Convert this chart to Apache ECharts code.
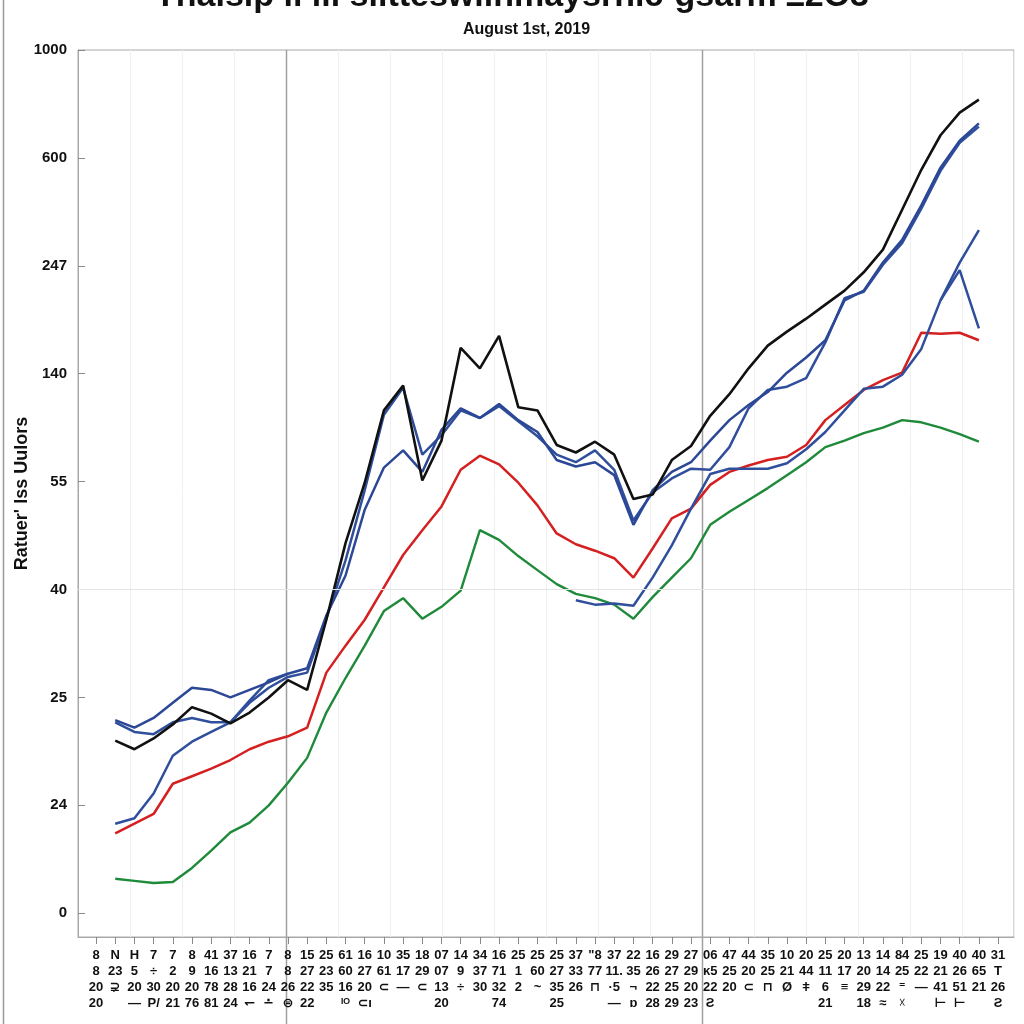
<!DOCTYPE html>
<html><head><meta charset="utf-8">
<script src="https://cdn.jsdelivr.net/npm/echarts@6/dist/echarts.min.js"></script>
<style>html,body{margin:0;padding:0;background:#fff}#c{width:1024px;height:1024px}</style>
</head><body><div id="c"></div>
<script>
// Y axis is an ordinal scale: tick k carries label yTickLabels[k]; values below are positions on that scale.
const yTickLabels = ['0','24','25','40','55','140','247','600','1000'];

// X axis: 48 columns, four label rows each
const xRow1 = ['8','N','H','7','7','8','41','37','16','7', '8','15','25','61','16','10','35','18','07','14','34','16', '25','25','25','37','"8','37','22','16','29','27', '06','47','44','35','10','20','25','20','13','14','84','25','19','40','40','31'];
const xRow2 = ['8','23','5','÷','2','9','16','13','21','7', '8','27','23','60','27','61','17','29','07','9','37','71', '1','60','27','33','77','11.','35','26','27','29', 'ĸ5','25','20','25','21','44','11','17','20','14','25','22','21','26','65','T'];
const xRow3 = ['20','⊋','20','30','20','20','78','28','16','24', '26','22','35','16','20','⊂','—','⊂','13','÷','30','32', '2','~','35','26','⊓','·5','¬','22','25','20', '22','20','⊂','⊓','Ø','ǂ','6','≡','29','22','⁼','—','41','51','21','26'];
const xRow4 = ['20','','—','P/','21','76','81','24','↽','∸', '⊜','22','','ᴵᴼ','⊂ı','','','','20','','','74', '','','25','','','—','ɒ','28','29','23', 'Ƨ','','','','','','21','','18','≈','☓','','⊢','⊢','','Ƨ'];

const black = [null,1.60,1.52,1.62,1.75,1.91,1.85,1.76,1.86,2.00,2.16,2.07,2.72,3.43,3.99,4.66,4.89,4.01,4.38,5.24,5.05,5.35,4.69,4.66,4.34,4.27,4.37,4.25,3.84,3.88,4.20,4.33,4.61,4.81,5.05,5.26,5.39,5.51,5.64,5.77,5.94,6.15,6.52,6.89,7.21,7.42,7.54,null];
const blue1 = [null,1.79,1.72,1.81,1.95,2.09,2.07,2.00,2.07,2.14,2.22,2.27,2.76,3.13,3.74,4.13,4.29,4.09,4.48,4.68,4.59,4.72,4.57,4.46,4.20,4.14,4.18,4.06,3.60,3.92,4.09,4.18,4.38,4.57,4.71,4.83,5.01,5.15,5.31,5.68,5.77,6.03,6.24,6.56,6.91,7.16,7.32,null];
const blue2 = [null,1.77,1.68,1.66,1.77,1.81,1.77,1.77,1.95,2.09,2.19,2.23,2.73,3.27,3.92,4.62,4.87,4.25,4.43,4.66,4.59,4.70,4.56,4.42,4.25,4.18,4.29,4.11,3.64,3.90,4.03,4.12,4.11,4.32,4.68,4.85,4.88,4.96,5.29,5.70,5.76,6.01,6.21,6.53,6.88,7.14,7.29,null];
const blue3 = [null,0.83,0.88,1.11,1.46,1.59,1.68,1.77,1.97,2.16,2.22,null,null,null,null,null,null,null,null,null,null,null,null,null,null,2.90,2.86,2.87,2.85,3.11,3.41,3.75,4.07,4.12,4.12,4.12,4.17,4.30,4.46,4.66,4.86,4.88,4.99,5.23,5.68,6.03,6.33,null];
const blue4 = [null,null,null,null,null,null,null,null,null,null,null,null,null,null,null,null,null,null,null,null,null,null,null,null,null,null,null,null,null,null,null,null,null,null,null,null,null,null,null,null,null,null,null,null,5.68,5.96,5.42,null];
const red = [null,0.74,0.83,0.92,1.20,1.27,1.34,1.42,1.52,1.59,1.64,1.72,2.23,2.48,2.72,3.02,3.32,3.55,3.77,4.11,4.24,4.16,3.99,3.78,3.52,3.42,3.36,3.29,3.11,3.38,3.66,3.75,3.97,4.09,4.15,4.20,4.23,4.34,4.57,4.71,4.85,4.94,5.01,5.38,5.37,5.38,5.31,null];
const green = [null,0.32,0.30,0.28,0.29,0.42,0.58,0.75,0.84,1.00,1.21,1.44,1.86,2.18,2.48,2.80,2.92,2.73,2.84,2.99,3.55,3.46,3.31,3.18,3.05,2.96,2.92,2.86,2.73,2.93,3.11,3.29,3.60,3.72,3.83,3.94,4.06,4.18,4.32,4.38,4.45,4.50,4.57,4.55,4.50,4.44,4.37,null];

const FONT = '"Liberation Sans", Arial, "DejaVu Sans", sans-serif';
const idx = xRow1.map((_, i) => i);
const pts = arr => arr.map((v, i) => [i, v]);
const mkLine = (name, arr, color, w) => ({
  name, type: 'line', data: pts(arr), xAxisIndex: 0, yAxisIndex: 0,
  symbol: 'none', connectNulls: false, animation: false,
  lineStyle: { color, width: w }, itemStyle: { color }
});

const chart = echarts.init(document.getElementById('c'), null, { renderer: 'canvas' });
const greenSeries = mkLine('green', green, '#1e8a3a', 2.4);
greenSeries.markLine = {
  silent: true, symbol: 'none', label: { show: false }, animation: false,
  lineStyle: { color: '#e4e4e4', width: 1, type: 'solid' },
  data: [{ yAxis: yTickLabels.indexOf('40') }]
};

chart.setOption({
  backgroundColor: '#fff',
  animation: false,
  title: [
    { text: 'Thalsip il lll slltteswllnmaysrnic-gsarm ±2O3', left: 'center', top: -25,
      textStyle: { fontSize: 34, fontWeight: 'bold', color: '#111', fontFamily: FONT } },
    { text: 'August 1st, 2019', left: 458, top: 17,
      textStyle: { fontSize: 16, fontWeight: 'bold', color: '#111', fontFamily: FONT } }
  ],
  grid: { left: 78, right: 10, top: 50, bottom: 87, show: true, borderColor: '#a8a8a8', borderWidth: 1, containLabel: false },
  xAxis: [
    { type: 'value', min: -0.94, max: 47.83, position: 'bottom',
      axisLine: { show: true, onZero: false, lineStyle: { color: '#a8a8a8', width: 1 } },
      axisTick: { show: true, customValues: idx, length: 7, lineStyle: { color: '#888' } },
      axisLabel: { show: true, customValues: idx, margin: 10, color: '#111',
        fontFamily: FONT, fontWeight: 'bold', fontSize: 13, lineHeight: 16,
        formatter: v => { const i = Math.round(v); return [xRow1[i], xRow2[i], xRow3[i], xRow4[i]].join('\n'); } },
      splitLine: { show: false } },
    { type: 'value', min: 0, max: 18, interval: 1, position: 'top',
      axisLine: { show: false, onZero: false }, axisTick: { show: false }, axisLabel: { show: false },
      splitLine: { show: true, lineStyle: { color: '#f0f0f0', width: 1 } } }
  ],
  yAxis: {
    type: 'value', min: -0.22, max: 8,
    name: "Ratuer' lss Uulors", nameLocation: 'middle', nameGap: 47, nameRotate: 90, nameMoveOverlap: false,
    nameTextStyle: { fontSize: 18, fontWeight: 'bold', color: '#111', fontFamily: FONT },
    axisLine: { show: true, onZero: false, lineStyle: { color: '#a8a8a8', width: 1 } },
    axisTick: { show: true, inside: true, customValues: yTickLabels.map((_, i) => i), length: 7, lineStyle: { color: '#888' } },
    axisLabel: { show: true, customValues: yTickLabels.map((_, i) => i), margin: 11, color: '#111',
      fontFamily: FONT, fontWeight: 'bold', fontSize: 15,
      formatter: v => yTickLabels[Math.round(v)] },
    splitLine: { show: false }
  },
  series: [
    greenSeries,
    mkLine('red', red, '#d42020', 2.5),
    mkLine('blue3', blue3, '#2f4e9c', 2.5),
    mkLine('blue4', blue4, '#2f4e9c', 2.5),
    mkLine('blue2', blue2, '#2f4e9c', 2.5),
    mkLine('blue1', blue1, '#2b4796', 2.5),
    mkLine('black', black, '#111111', 2.6)
  ]
});

// Dark period dividers on the 18-division vertical grid, extending through the label area
const dividers = [4, 12];
const gfx = dividers.map(d => {
  const x = Math.round(chart.convertToPixel({ xAxisIndex: 1 }, d)) + 0.5;
  return { type: 'line', silent: true, z: 0, shape: { x1: x, y1: 50, x2: x, y2: 1024 },
    style: { stroke: '#a0a0a0', lineWidth: 1.5 } };
});
gfx.push({ type: 'line', silent: true, shape: { x1: 3.5, y1: 0, x2: 3.5, y2: 1024 }, style: { stroke: '#999', lineWidth: 1.5 } });
chart.setOption({ graphic: gfx });
</script>
</body></html>
